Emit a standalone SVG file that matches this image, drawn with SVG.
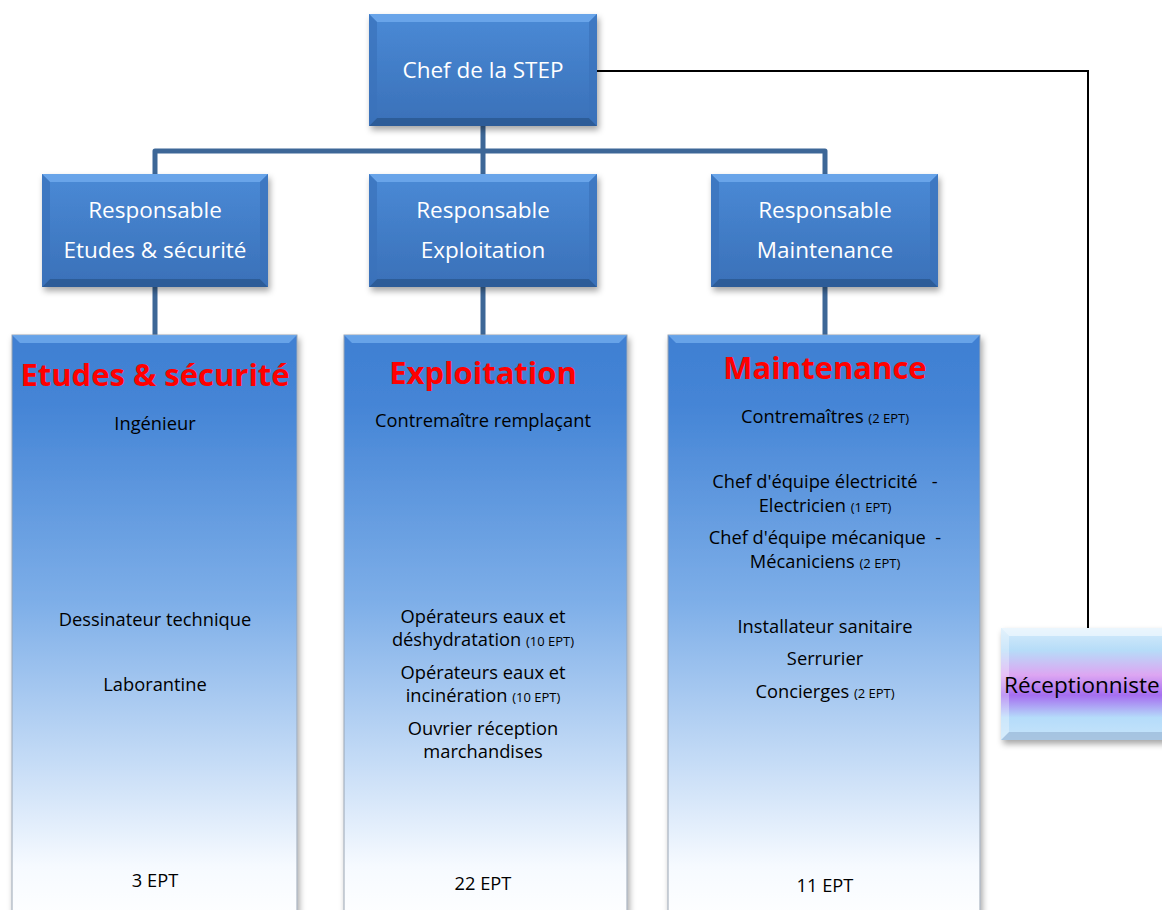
<svg xmlns="http://www.w3.org/2000/svg" width="1162" height="910" viewBox="0 0 1162 910">
<defs>
<filter id="sh" x="-10%" y="-10%" width="125%" height="130%">
<feDropShadow dx="2" dy="4" stdDeviation="3" flood-color="#000" flood-opacity="0.35"/>
</filter>
<linearGradient id="boxg" x1="0" y1="0" x2="0" y2="1">
<stop offset="0" stop-color="#4A8AD6"/>
<stop offset="1" stop-color="#3A70B8"/>
</linearGradient>
<linearGradient id="colg" x1="0" y1="0" x2="0" y2="1">
<stop offset="0" stop-color="#3F7FD2"/>
<stop offset="0.12" stop-color="#4585D6"/>
<stop offset="0.45" stop-color="#7DAEE8"/>
<stop offset="0.72" stop-color="#C4DBF6"/>
<stop offset="0.9" stop-color="#F6FAFF"/>
<stop offset="1" stop-color="#FFFFFF"/>
</linearGradient>
<linearGradient id="recg" x1="0" y1="0" x2="0" y2="1">
<stop offset="0" stop-color="#D6ECFB"/>
<stop offset="0.2" stop-color="#B6DCF8"/>
<stop offset="0.42" stop-color="#DDA6F2"/>
<stop offset="0.6" stop-color="#A56EF0"/>
<stop offset="0.8" stop-color="#B5DCFA"/>
<stop offset="1" stop-color="#C6E4FA"/>
</linearGradient>
</defs>
<style>
.bx{fill:url(#boxg);filter:url(#sh)}
.bt{fill:#6FA9EC;opacity:0.85}
.bb{fill:#2B5790;opacity:0.8}
.bs{fill:#3A72BA;opacity:0.7}
.wt{font-family:"Open Sans","Noto Sans",sans-serif;font-size:22.5px;fill:#fff;text-anchor:middle}
.ttl{font-family:"Open Sans","Noto Sans",sans-serif;font-size:31px;font-weight:bold;fill:#FF0000;text-anchor:middle}
.tx{font-family:"Open Sans","Noto Sans",sans-serif;font-size:18.3px;fill:#000;text-anchor:middle}
.sm{font-size:13px}
.col{fill:url(#colg);stroke:#9AA6B4;stroke-width:1;filter:url(#sh)}
.conn{fill:none;stroke:#3D6797;stroke-width:5;stroke-linejoin:round}
.blk{fill:none;stroke:#000;stroke-width:2}
</style>

<g id="connectors">
<path class="conn" d="M483 126 V174 M155 174 V151 H825 V174"/>
<path class="conn" d="M155 287 V336 M483 287 V336 M825 287 V336"/>
<path class="blk" d="M597 71 H1088 V632"/>
</g>

<g id="chef">
<rect class="bx" x="369" y="14" width="228" height="112"/>
<polygon class="bt" points="369,14 597,14 589,22 377,22"/>
<polygon class="bb" points="369,126 597,126 589,118 377,118"/>
<polygon class="bs" points="369,14 377,22 377,118 369,126"/>
<polygon class="bs" points="597,14 589,22 589,118 597,126"/>
<text class="wt" x="483" y="78">Chef de la STEP</text>
</g>

<g id="resp-etudes">
<rect class="bx" x="42" y="174" width="226" height="113"/>
<polygon class="bt" points="42,174 268,174 260,182 50,182"/>
<polygon class="bb" points="42,287 268,287 260,279 50,279"/>
<polygon class="bs" points="42,174 50,182 50,279 42,287"/>
<polygon class="bs" points="268,174 260,182 260,279 268,287"/>
<text class="wt" x="155" y="218">Responsable</text>
<text class="wt" x="155" y="258">Etudes &amp; sécurité</text>
</g>

<g id="resp-exploitation">
<rect class="bx" x="369" y="174" width="228" height="113"/>
<polygon class="bt" points="369,174 597,174 589,182 377,182"/>
<polygon class="bb" points="369,287 597,287 589,279 377,279"/>
<polygon class="bs" points="369,174 377,182 377,279 369,287"/>
<polygon class="bs" points="597,174 589,182 589,279 597,287"/>
<text class="wt" x="483" y="218">Responsable</text>
<text class="wt" x="483" y="258">Exploitation</text>
</g>

<g id="resp-maintenance">
<rect class="bx" x="711" y="174" width="227" height="113"/>
<polygon class="bt" points="711,174 938,174 930,182 719,182"/>
<polygon class="bb" points="711,287 938,287 930,279 719,279"/>
<polygon class="bs" points="711,174 719,182 719,279 711,287"/>
<polygon class="bs" points="938,174 930,182 930,279 938,287"/>
<text class="wt" x="825" y="218">Responsable</text>
<text class="wt" x="825" y="258">Maintenance</text>
</g>

<g id="col-etudes">
<rect class="col" x="12" y="335" width="285" height="590"/>
<polygon class="bt" points="12,335 297,335 289,343 20,343"/>
<text class="ttl" x="155" y="386">Etudes &amp; sécurité</text>
<text class="tx" x="155" y="430">Ingénieur</text>
<text class="tx" x="155" y="626">Dessinateur technique</text>
<text class="tx" x="155" y="691">Laborantine</text>
<text class="tx" x="155" y="887">3 EPT</text>
</g>

<g id="col-exploitation">
<rect class="col" x="344" y="335" width="283" height="590"/>
<polygon class="bt" points="344,335 627,335 619,343 352,343"/>
<text class="ttl" x="483" y="384">Exploitation</text>
<text class="tx" x="483" y="427">Contremaître remplaçant</text>
<text class="tx" x="483" y="623">Opérateurs eaux et</text>
<text class="tx" x="483" y="646">déshydratation <tspan class="sm">(10 EPT)</tspan></text>
<text class="tx" x="483" y="679">Opérateurs eaux et</text>
<text class="tx" x="483" y="702">incinération <tspan class="sm">(10 EPT)</tspan></text>
<text class="tx" x="483" y="735">Ouvrier réception</text>
<text class="tx" x="483" y="758">marchandises</text>
<text class="tx" x="483" y="890">22 EPT</text>
</g>

<g id="col-maintenance">
<rect class="col" x="668" y="335" width="312" height="590"/>
<polygon class="bt" points="668,335 980,335 972,343 676,343"/>
<text class="ttl" x="825" y="379">Maintenance</text>
<text class="tx" x="825" y="423">Contremaîtres <tspan class="sm">(2 EPT)</tspan></text>
<text class="tx" x="825" y="488" xml:space="preserve">Chef d'équipe électricité   -</text>
<text class="tx" x="825" y="512">Electricien <tspan class="sm">(1 EPT)</tspan></text>
<text class="tx" x="825" y="544" xml:space="preserve">Chef d'équipe mécanique  -</text>
<text class="tx" x="825" y="568">Mécaniciens <tspan class="sm">(2 EPT)</tspan></text>
<text class="tx" x="825" y="633">Installateur sanitaire</text>
<text class="tx" x="825" y="665">Serrurier</text>
<text class="tx" x="825" y="698">Concierges <tspan class="sm">(2 EPT)</tspan></text>
<text class="tx" x="825" y="892">11 EPT</text>
</g>

<g id="receptionniste">
<rect x="1001" y="628" width="175" height="112" fill="url(#recg)" filter="url(#sh)"/>
<polygon points="1001,628 1176,628 1168,636 1009,636" fill="#fff" opacity="0.5"/>
<polygon points="1001,740 1176,740 1168,732 1009,732" fill="#8AA6C8" opacity="0.5"/>
<polygon points="1001,628 1009,636 1009,732 1001,740" fill="#fff" opacity="0.3"/>
<text x="1004" y="693" font-family="Open Sans, Noto Sans, sans-serif" font-size="22.5" fill="#000">Réceptionniste</text>
</g>
</svg>
